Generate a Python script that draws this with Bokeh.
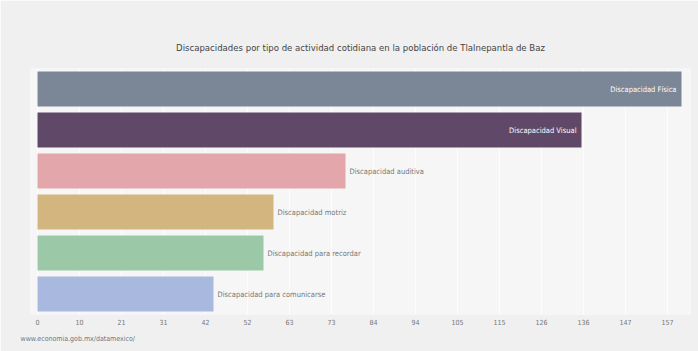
from bokeh.plotting import figure
from bokeh.models import ColumnDataSource, FactorRange, Range1d, FixedTicker, Title
from bokeh.core.properties import value
from bokeh.embed import file_html
from bokeh.resources import INLINE

categories = ["Discapacidad Física", "Discapacidad Visual", "Discapacidad auditiva",
              "Discapacidad motriz", "Discapacidad para recordar", "Discapacidad para comunicarse"]
values = [161, 136, 77, 59, 56.5, 44]
palette = ["#7b8696", "#5f4868", "#e3a6aa", "#d3b67f", "#9bc9a7", "#a9b8de"]
tick_values = [0, 10.5, 21, 31.5, 42, 52.5, 63, 73.5, 84, 94.5, 105, 115.5, 126, 136.5, 147, 157.5]
tick_labels = ["0", "10", "21", "31", "42", "52", "63", "73", "84", "94", "105", "115", "126", "136", "147", "157"]

FONT = "'DejaVu Sans Condensed', sans-serif"
inside = [v > 100 for v in values]
src = ColumnDataSource(dict(
    cat=categories, val=values, color=palette,
    align=["right" if i else "left" for i in inside],
    xoff=[-5 if i else 4 for i in inside],
    tcolor=["#ffffff" if i else "#777777" for i in inside],
))

p = figure(width=698, height=351, output_backend="svg", toolbar_location=None,
           y_range=FactorRange(factors=categories[::-1], range_padding=0),
           x_range=Range1d(-1.75, 163.25),
           min_border_left=30, min_border_right=8, min_border_top=68, min_border_bottom=37)
p.background_fill_color = "#f6f6f6"
p.border_fill_color = "#f0f0f0"
p.outline_line_color = None

p.title.text = "Discapacidades por tipo de actividad cotidiana en la población de Tlalnepantla de Baz"
p.title.align = "center"
p.title.text_font = FONT
p.title.text_font_size = "9.5px"
p.title.text_font_style = "normal"
p.title.text_color = "#444444"
p.title.standoff = 32

p.hbar(y="cat", right="val", left=0, height=0.85, color="color", source=src, line_color=None)
p.text(x="val", y="cat", text="cat", x_offset="xoff", text_align="align", text_baseline="middle",
       text_color="tcolor", text_font=value(FONT), text_font_size="7.5px", source=src)

p.yaxis.visible = False
p.xaxis.ticker = FixedTicker(ticks=tick_values)
p.xaxis.major_label_overrides = {t: l for t, l in zip(tick_values, tick_labels)}
p.xaxis.axis_line_color = None
p.xaxis.major_tick_line_color = None
p.xaxis.minor_tick_line_color = None
p.xaxis.major_label_text_font = FONT
p.xaxis.major_label_text_font_size = "7px"
p.xaxis.major_label_text_color = "#777777"
p.xaxis.major_label_standoff = -2
p.ygrid.grid_line_color = None
p.xgrid.grid_line_color = "#ffffff"
p.xgrid.grid_line_alpha = 0.8

p.add_layout(Title(text="www.economia.gob.mx/datamexico/", align="left", text_font=FONT,
                   text_font_size="7px", text_font_style="normal", text_color="#667788",
                   offset=-10), "below")

open("out.html", "w").write(file_html(p, INLINE))
